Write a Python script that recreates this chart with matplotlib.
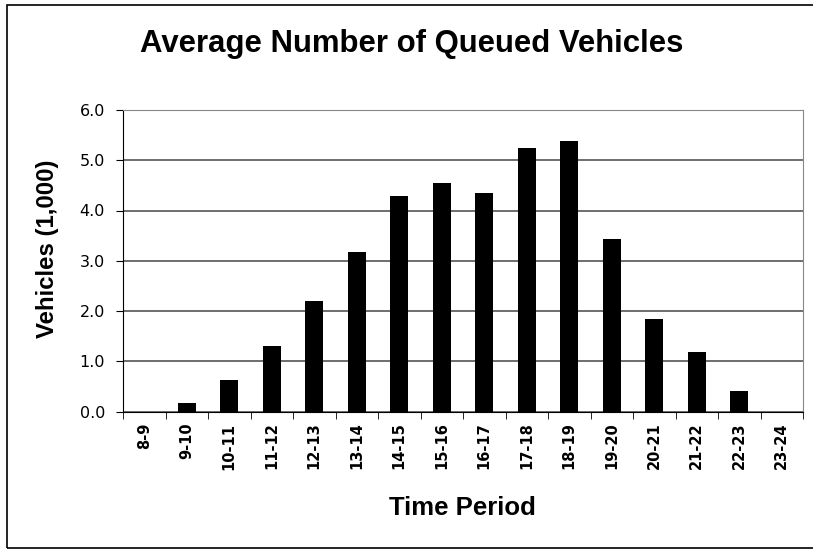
import matplotlib
matplotlib.use("Agg")
import matplotlib.pyplot as plt
import numpy as np

# time periods and average queued vehicles (thousands)
periods = ["8-9", "9-10", "10-11", "11-12", "12-13", "13-14", "14-15", "15-16",
           "16-17", "17-18", "18-19", "19-20", "20-21", "21-22", "22-23", "23-24"]
vehicles = [0.0, 0.16, 0.63, 1.31, 2.20, 3.17, 4.29, 4.55,
            4.35, 5.25, 5.39, 3.44, 1.84, 1.19, 0.40, 0.0]
yticks = [0, 1, 2, 3, 4, 5, 6]

plt.rcParams["font.family"] = ["Liberation Sans", "DejaVu Sans"]

fig = plt.figure(figsize=(8.13, 5.5), dpi=100)
ax = fig.add_axes([123 / 813, 1 - 411.5 / 550, (803 - 123) / 813, (411.5 - 110) / 550])

x = np.arange(len(periods))
ax.bar(x, vehicles, width=0.42, color="black", zorder=3)

ax.set_xlim(-0.5, len(periods) - 0.5)
ax.set_ylim(0, 6)
ax.set_yticks(yticks)
ax.set_yticklabels(["%.1f" % v for v in yticks], fontsize=11.5, family="DejaVu Sans")
ax.yaxis.grid(True, color="#555555", linewidth=1.2, zorder=0)

ax.set_xticks(x)
ax.set_xticklabels(periods, rotation=90, fontsize=10.5, fontweight="bold",
                   family="DejaVu Sans")
ax.set_xticks(np.arange(-0.5, len(periods)), minor=True)
ax.tick_params(axis="x", which="major", length=0, pad=8)
ax.tick_params(axis="x", which="minor", length=5, color="black")
ax.tick_params(axis="y", length=5, color="black", pad=8)

for side in ["top", "right"]:
    ax.spines[side].set_color("#888888")
ax.spines["left"].set_color("black")
ax.spines["bottom"].set_color("black")

ax.set_xlabel("Time Period", fontsize=18.5, fontweight="bold")
ax.xaxis.set_label_coords((462 - 123) / 680, (411.5 - 496) / 301.5)
ax.set_ylabel("Vehicles (1,000)", fontsize=17.3, fontweight="bold")
ax.yaxis.set_label_coords((59 - 123) / 680, (411.5 - 249) / 301.5)
fig.text(412 / 813, 1 - 44 / 550, "Average Number of Queued Vehicles", fontsize=22.4,
         fontweight="bold", ha="center", va="center")

# outer chart border
fig.patches.append(plt.Rectangle((7 / 813, 2 / 550), 1.0, 1 - 7 / 550,
                                 transform=fig.transFigure, fill=False,
                                 edgecolor="black", linewidth=1.2))

fig.savefig("out.png", dpi=100)
